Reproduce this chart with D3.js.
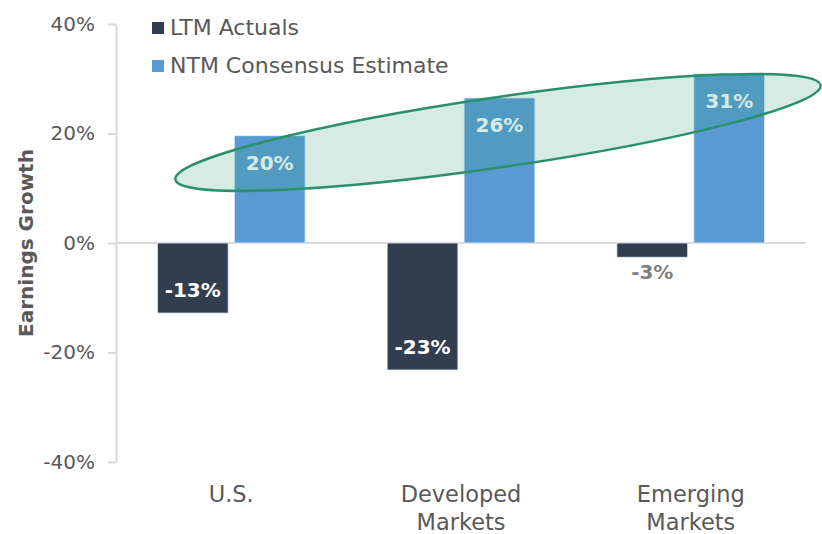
<!DOCTYPE html>
<html>
<head>
<meta charset="utf-8">
<script src="https://cdn.jsdelivr.net/npm/d3@7"></script>
<style>
  body { margin: 0; background: #fff; }
  text { font-family: "DejaVu Sans", sans-serif; }
</style>
</head>
<body>
<div id="svg-container"></div>
<script>
// chart data
let categories = [["U.S."], ["Developed", "Markets"], ["Emerging", "Markets"]];
let seriesNames = ["LTM Actuals", "NTM Consensus Estimate"];
let ltmActuals = [-12.8, -23.2, -2.6];
let ntmEstimate = [19.6, 26.5, 30.9];
let ltmLabels = ["-13%", "-23%", "-3%"];
let ntmLabels = ["20%", "26%", "31%"];
let yTicks = [-40, -20, 0, 20, 40];

const width = 822, height = 534;
const colors = ["#323e50", "#5b9bd5"];
const textGrey = "#595959";

let svg = d3.select('#svg-container').append('svg')
	.attr('width', width)
	.attr('height', height);

let catKeys = categories.map(c => c.join(' '));

let x = d3.scaleBand()
	.domain(catKeys)
	.range([116, 806])
	.paddingInner(0.357)
	.paddingOuter(0.18);
let xInner = d3.scaleBand()
	.domain([0, 1])
	.range([0, x.bandwidth()])
	.paddingInner(0.08);
let y = d3.scaleLinear()
	.domain([-40, 40])
	.range([462, 24]);

// y axis
let yAxis = svg.append('g')
	.attr('transform', 'translate(116,0)')
	.call(d3.axisLeft(y).tickValues(yTicks).tickSize(8).tickSizeOuter(0).tickPadding(13)
		.tickFormat(d => d + '%'));
yAxis.select('.domain').attr('stroke', '#d9d9d9').attr('stroke-width', 2);
yAxis.selectAll('.tick line').attr('stroke', '#d9d9d9').attr('stroke-width', 2);
yAxis.selectAll('.tick text')
	.attr('fill', textGrey)
	.style('font-size', '20px')
	.style('font-family', '"DejaVu Sans", sans-serif');

// zero line
svg.append('line')
	.attr('x1', 116).attr('x2', 806)
	.attr('y1', y(0)).attr('y2', y(0))
	.attr('stroke', '#d9d9d9')
	.attr('stroke-width', 2);

// bars
let series = [ltmActuals, ntmEstimate];
let groups = svg.selectAll('g.cat').data(catKeys).enter()
	.append('g')
	.attr('class', 'cat')
	.attr('transform', d => `translate(${x(d)},0)`);

series.forEach(function (vals, s) {
	groups.append('rect')
		.attr('x', xInner(s))
		.attr('width', xInner.bandwidth())
		.attr('y', (d, i) => y(Math.max(0, vals[i])))
		.attr('height', (d, i) => Math.abs(y(vals[i]) - y(0)))
		.attr('fill', colors[s])
		.attr('stroke', '#e8eef5')
		.attr('stroke-width', 0.8);
});

// value labels (inside end, small bar gets label outside)
groups.append('text')
	.attr('x', xInner(0) + xInner.bandwidth() / 2)
	.attr('y', (d, i) => ltmActuals[i] < -5 ? y(ltmActuals[i]) - 16 : y(ltmActuals[i]) + 22)
	.attr('text-anchor', 'middle')
	.attr('fill', (d, i) => ltmActuals[i] < -5 ? '#fff' : '#7f7f7f')
	.style('font-size', '20px')
	.style('font-weight', 'bold')
	.text((d, i) => ltmLabels[i]);
groups.append('text')
	.attr('x', xInner(1) + xInner.bandwidth() / 2)
	.attr('y', (d, i) => y(ntmEstimate[i]) + 34)
	.attr('text-anchor', 'middle')
	.attr('fill', '#fff')
	.style('font-size', '20px')
	.style('font-weight', 'bold')
	.text((d, i) => ntmLabels[i]);

// highlight ellipse over the estimates
let leftEnd = [x(catKeys[0]) + 18, y(11.6)];
let rightEnd = [x(catKeys[2]) + x.bandwidth() + 56, y(28.8)];
let cx = (leftEnd[0] + rightEnd[0]) / 2, cy = (leftEnd[1] + rightEnd[1]) / 2;
let dx = rightEnd[0] - leftEnd[0], dy = rightEnd[1] - leftEnd[1];
let angle = Math.atan2(dy, dx) * 180 / Math.PI;
svg.append('ellipse')
	.attr('cx', 0).attr('cy', 0)
	.attr('rx', Math.sqrt(dx * dx + dy * dy) / 2)
	.attr('ry', 35)
	.attr('transform', `translate(${cx},${cy}) rotate(${angle})`)
	.attr('fill', '#2e9a73')
	.attr('fill-opacity', 0.2)
	.attr('stroke', '#2a8f6c')
	.attr('stroke-width', 2.5);

// category labels
let catText = svg.selectAll('text.cat-label').data(categories).enter()
	.append('text')
	.attr('class', 'cat-label')
	.attr('text-anchor', 'middle')
	.attr('fill', textGrey)
	.style('font-size', '22.5px')
	.attr('transform', (d, i) => `translate(${x(catKeys[i]) + x.bandwidth() / 2},502)`);
catText.selectAll('tspan').data(d => d).enter()
	.append('tspan')
	.attr('x', 0)
	.attr('dy', (d, j) => j === 0 ? 0 : 28)
	.text(d => d);

// y axis title
svg.append('text')
	.attr('transform', `translate(33,${y(0)}) rotate(-90)`)
	.attr('text-anchor', 'middle')
	.attr('fill', textGrey)
	.style('font-size', '20px')
	.style('font-weight', 'bold')
	.text('Earnings Growth');

// legend
let legend = svg.selectAll('g.legend').data(seriesNames).enter()
	.append('g')
	.attr('class', 'legend')
	.attr('transform', (d, i) => `translate(152,${22 + i * 38})`);
legend.append('rect')
	.attr('width', 12).attr('height', 12)
	.attr('fill', (d, i) => colors[i]);
legend.append('text')
	.attr('x', 18).attr('y', 13)
	.attr('fill', textGrey)
	.style('font-size', '22px')
	.text(d => d);
</script>
</body>
</html>
